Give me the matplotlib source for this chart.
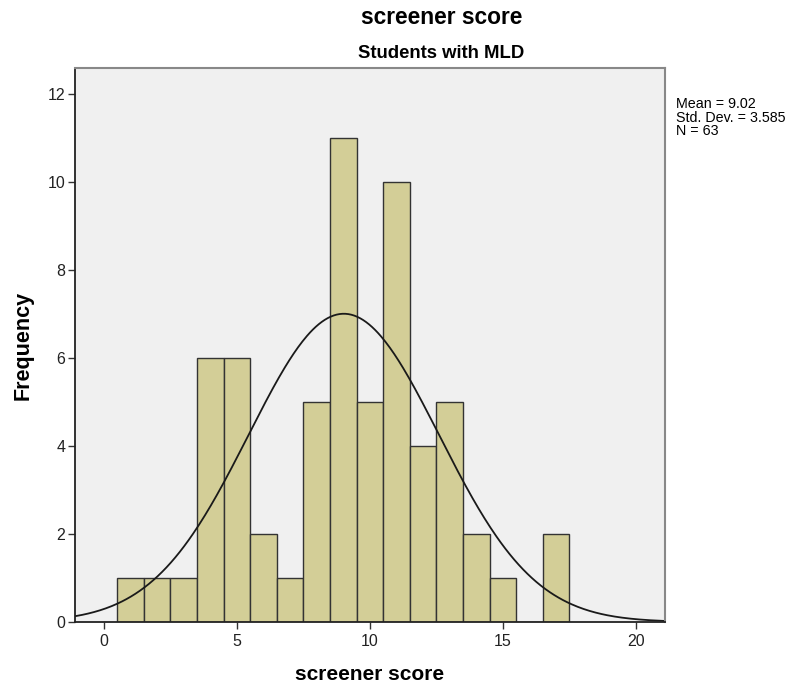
import matplotlib
matplotlib.use("Agg")
import matplotlib.pyplot as plt
import numpy as np

plt.rcParams['font.family'] = ['Liberation Sans Narrow', 'Liberation Sans', 'DejaVu Sans']

# histogram bins (score -> frequency)
scores = [1, 2, 3, 4, 5, 6, 7, 8, 9, 10, 11, 12, 13, 14, 15, 16, 17]
counts = [1, 1, 1, 6, 6, 2, 1, 5, 11, 5, 10, 4, 5, 2, 1, 0, 2]
mean = 9.02
sd = 3.585
n = 63
xticks = [0, 5, 10, 15, 20]
yticks = [0, 2, 4, 6, 8, 10, 12]

fig = plt.figure(figsize=(7.98, 6.88), dpi=100)
ax = fig.add_axes([75/798, 1 - 622/688, 590/798, 554/688])
ax.set_facecolor('#f0f0f0')

ax.bar(scores, counts, width=1.0, color='#d3ce97', edgecolor='#333333', linewidth=1.0)

# normal curve scaled to counts
xs = np.linspace(-1.1, 21.1, 400)
ys = n * 1.0 / (sd * np.sqrt(2 * np.pi)) * np.exp(-0.5 * ((xs - mean) / sd) ** 2)
ax.plot(xs, ys, color='#1a1a1a', linewidth=1.3)

ax.set_xlim(-1.09, 21.1)
ax.set_ylim(0, 12.6)
ax.set_xticks(xticks)
ax.set_yticks(yticks)
ax.tick_params(axis='both', labelsize=11.5, length=5, width=1, color='#333333', labelcolor='#222222')
ax.tick_params(axis='x', pad=4)
ax.tick_params(axis='y', pad=2)

for s in ['left', 'bottom']:
    ax.spines[s].set_color('#222222')
    ax.spines[s].set_linewidth(1.3)
for s in ['top', 'right']:
    ax.spines[s].set_color('#888888')
    ax.spines[s].set_linewidth(1.5)

ax.set_xlabel('screener score', fontsize=15, fontweight='bold', labelpad=11)
ax.set_ylabel('Frequency', fontsize=15.5, fontweight='bold', labelpad=10)

fig.text(442/798, 1 - 18/688, 'screener score', ha='center', va='center', fontsize=16.4, fontweight='bold')
fig.text(441/798, 1 - 53/688, 'Students with MLD', ha='center', va='center', fontsize=13.3, fontweight='bold')

# summary stats, one line each
stats = ['Mean = %.2f' % mean, 'Std. Dev. = %.3f' % sd, 'N = %d' % n]
for i, line in enumerate(stats):
    fig.text(676/798, 1 - (104 + 13.5 * i)/688, line, ha='left', va='center', fontsize=10.3)

fig.savefig('out.png', dpi=100)
